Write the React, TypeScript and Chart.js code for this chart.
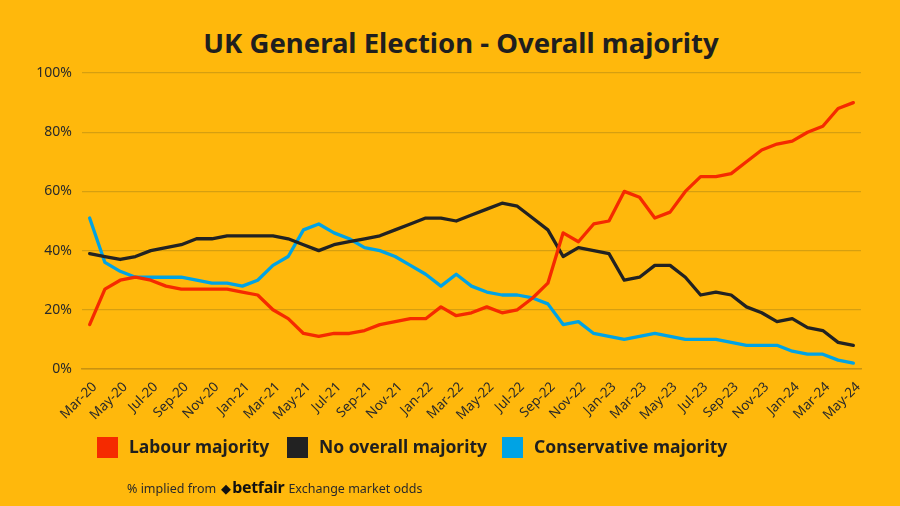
import React, { useEffect, useRef } from "react";
import { Chart, registerables } from "chart.js";

Chart.register(...registerables);

const months = [
  "Mar-20", "Apr-20", "May-20", "Jun-20", "Jul-20", "Aug-20", "Sep-20", "Oct-20", "Nov-20", "Dec-20",
  "Jan-21", "Feb-21", "Mar-21", "Apr-21", "May-21", "Jun-21", "Jul-21", "Aug-21", "Sep-21", "Oct-21", "Nov-21", "Dec-21",
  "Jan-22", "Feb-22", "Mar-22", "Apr-22", "May-22", "Jun-22", "Jul-22", "Aug-22", "Sep-22", "Oct-22", "Nov-22", "Dec-22",
  "Jan-23", "Feb-23", "Mar-23", "Apr-23", "May-23", "Jun-23", "Jul-23", "Aug-23", "Sep-23", "Oct-23", "Nov-23", "Dec-23",
  "Jan-24", "Feb-24", "Mar-24", "Apr-24", "May-24",
];

const labourMajority = [
  15, 27, 30, 31, 30, 28, 27, 27, 27, 27,
  26, 25, 20, 17, 12, 11, 12, 12, 13, 15, 16, 17,
  17, 21, 18, 19, 21, 19, 20, 24, 29, 46, 43, 49,
  50, 60, 58, 51, 53, 60, 65, 65, 66, 70, 74, 76,
  77, 80, 82, 88, 90,
];

const noOverallMajority = [
  39, 38, 37, 38, 40, 41, 42, 44, 44, 45,
  45, 45, 45, 44, 42, 40, 42, 43, 44, 45, 47, 49,
  51, 51, 50, 52, 54, 56, 55, 51, 47, 38, 41, 40,
  39, 30, 31, 35, 35, 31, 25, 26, 25, 21, 19, 16,
  17, 14, 13, 9, 8,
];

const conservativeMajority = [
  51, 36, 33, 31, 31, 31, 31, 30, 29, 29,
  28, 30, 35, 38, 47, 49, 46, 44, 41, 40, 38, 35,
  32, 28, 32, 28, 26, 25, 25, 24, 22, 15, 16, 12,
  11, 10, 11, 12, 11, 10, 10, 10, 9, 8, 8, 8,
  6, 5, 5, 3, 2,
];

const yTicks = [0, 20, 40, 60, 80, 100];

const BG = "#FFB80C";
const RED = "#F52A00";
const BLACK = "#222222";
const BLUE = "#00A3E4";
const FONT = "'Noto Sans', 'Open Sans', sans-serif";

export default function App() {
  const canvasRef = useRef<HTMLCanvasElement | null>(null);

  useEffect(() => {
    document.body.style.margin = "0";
    const canvas = canvasRef.current;
    if (!canvas) return;
    const chart = new Chart(canvas, {
      type: "line",
      data: {
        labels: months,
        datasets: [
          { label: "Labour majority", data: labourMajority, borderColor: RED, backgroundColor: RED },
          { label: "No overall majority", data: noOverallMajority, borderColor: BLACK, backgroundColor: BLACK },
          { label: "Conservative majority", data: conservativeMajority, borderColor: BLUE, backgroundColor: BLUE },
        ].map((d) => ({
          ...d,
          borderWidth: 3.3,
          pointRadius: 0,
          tension: 0,
          borderJoinStyle: "round" as const,
          borderCapStyle: "round" as const,
        })),
      },
      options: {
        animation: false,
        responsive: false,
        devicePixelRatio: 1,
        layout: { padding: { left: 0, right: 39, top: 73, bottom: 0 } },
        plugins: {
          legend: { display: false },
          title: { display: false },
          tooltip: { enabled: false },
        },
        scales: {
          x: {
            offset: true,
            grid: { display: false, drawTicks: false },
            border: { display: true, color: "#C99210", width: 1.5 },
            ticks: {
              autoSkip: false,
              maxRotation: 45,
              minRotation: 45,
              padding: 10,
              labelOffset: 5,
              color: "#2a2a2a",
              font: { family: FONT, size: 13.5 },
              callback: (_v: any, i: number) => (i % 2 === 0 ? months[i] : ""),
            },
            afterFit: (s: any) => {
              s.height = 137;
            },
          },
          y: {
            min: 0,
            max: 100,
            afterBuildTicks: (s: any) => {
              s.ticks = yTicks.map((v) => ({ value: v }));
            },
            grid: { color: "#D69F10", lineWidth: 1.3, drawTicks: false },
            border: { display: false },
            ticks: {
              padding: 10,
              color: "#2a2a2a",
              font: { family: FONT, size: 14 },
              callback: (v: any) => v + "%",
            },
            afterFit: (s: any) => {
              s.width = 82;
            },
          },
        },
      },
    });
    return () => chart.destroy();
  }, []);

  const legendItems = [
    { label: "Labour majority", color: RED, box: 97, text: 129 },
    { label: "No overall majority", color: BLACK, box: 287, text: 319 },
    { label: "Conservative majority", color: BLUE, box: 502, text: 534 },
  ];

  return (
    <div style={{ position: "relative", width: 900, height: 506, background: BG, overflow: "hidden", fontFamily: FONT }}>
      <div
        style={{
          position: "absolute",
          top: 24,
          left: 461,
          transform: "translateX(-50%)",
          whiteSpace: "nowrap",
          fontSize: 27.5,
          fontWeight: 700,
          color: "#1f1f1f",
          lineHeight: "normal",
        }}
      >
        UK General Election - Overall majority
      </div>
      <canvas ref={canvasRef} width={900} height={506} style={{ position: "absolute", left: 0, top: 0, width: 900, height: 506 }} />
      {legendItems.map((it) => (
        <React.Fragment key={it.label}>
          <div style={{ position: "absolute", left: it.box, top: 437, width: 21, height: 21, background: it.color }} />
          <div
            style={{
              position: "absolute",
              left: it.text,
              top: 434,
              fontSize: 17.5,
              fontWeight: 700,
              color: "#1f1f1f",
              whiteSpace: "nowrap",
              lineHeight: "normal",
            }}
          >
            {it.label}
          </div>
        </React.Fragment>
      ))}
      <div
        style={{
          position: "absolute",
          left: 127,
          top: 476,
          display: "flex",
          alignItems: "baseline",
          whiteSpace: "nowrap",
          fontSize: 12.5,
          color: "#2a2a2a",
          lineHeight: "normal",
        }}
      >
        <span>% implied from</span>
        <span style={{ fontSize: 13, color: "#111", marginLeft: 5, marginRight: 1 }}>◆</span>
        <span style={{ fontSize: 16, fontWeight: 700, color: "#111", letterSpacing: -0.3 }}>betfair</span>
        <span style={{ marginLeft: 4 }}>Exchange market odds</span>
      </div>
    </div>
  );
}
